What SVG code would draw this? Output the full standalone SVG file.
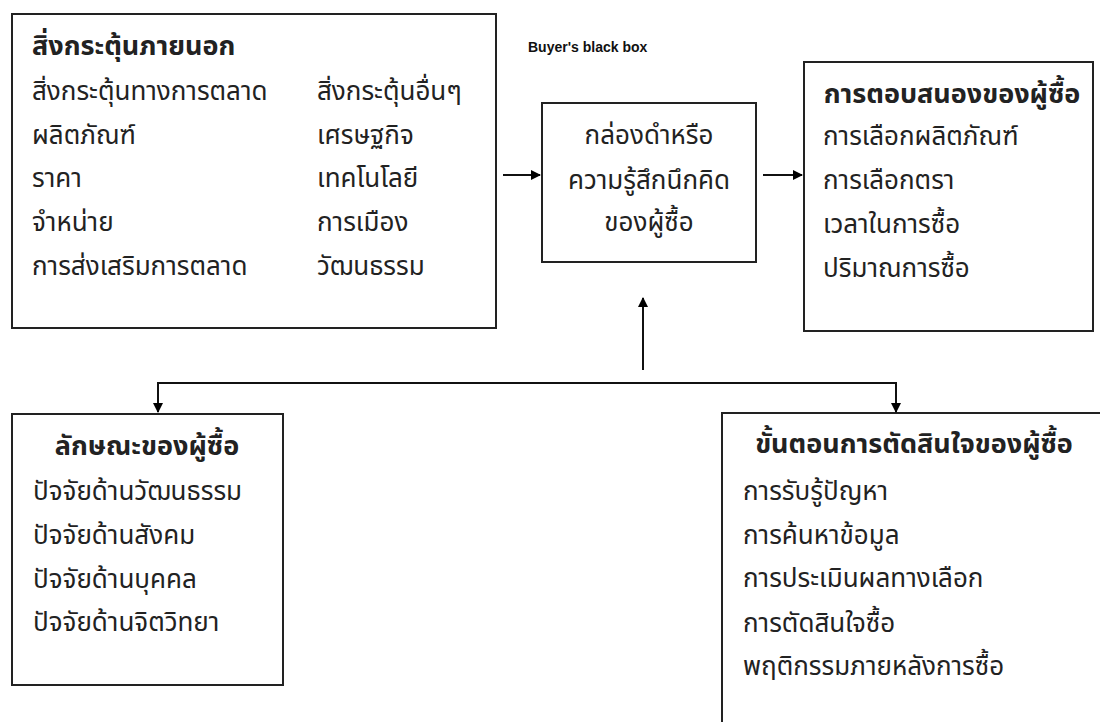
<svg xmlns="http://www.w3.org/2000/svg" width="1100" height="722" viewBox="0 0 1100 722">
<defs>
<style>
.box{fill:#fff;stroke:#222;stroke-width:2}
.t{font-family:"Noto Sans Thai","Noto Sans","Liberation Sans",sans-serif;font-size:26px;fill:#222;dominant-baseline:middle}
.b{font-weight:bold;font-size:27px}
.c{text-anchor:middle}
.en{font-family:"Liberation Sans",Arial,sans-serif;font-size:14px;font-weight:bold;fill:#111}
.ln{stroke:#111;stroke-width:2;fill:none}
</style>
<marker id="ah" markerWidth="10" markerHeight="10" refX="9" refY="5" orient="auto" markerUnits="userSpaceOnUse">
<path d="M0,0 L10,5 L0,10 z" fill="#000"/>
</marker>
</defs>
<rect width="1100" height="722" fill="#fff"/>
<g id="external">
<rect class="box" x="12" y="14" width="484" height="314"/>
<text class="t b" x="32" y="47">สิ่งกระตุ้นภายนอก</text>
<text class="t" x="32" y="93">สิ่งกระตุ้นทางการตลาด</text>
<text class="t" x="32" y="137">ผลิตภัณฑ์</text>
<text class="t" x="32" y="180">ราคา</text>
<text class="t" x="32" y="224">จำหน่าย</text>
<text class="t" x="32" y="268">การส่งเสริมการตลาด</text>
<text class="t" x="317" y="93">สิ่งกระตุ้นอื่นๆ</text>
<text class="t" x="317" y="137">เศรษฐกิจ</text>
<text class="t" x="317" y="180">เทคโนโลยี</text>
<text class="t" x="317" y="224">การเมือง</text>
<text class="t" x="317" y="268">วัฒนธรรม</text>
</g>
<g id="blackbox">
<text class="en" x="528" y="52">Buyer's black box</text>
<rect class="box" x="542" y="103" width="214" height="159"/>
<text class="t c" x="649" y="137">กล่องดำหรือ</text>
<text class="t c" x="649" y="182">ความรู้สึกนึกคิด</text>
<text class="t c" x="649" y="224">ของผู้ซื้อ</text>
</g>
<g id="response">
<rect class="box" x="804" y="62" width="289" height="269"/>
<text class="t b c" x="952" y="95">การตอบสนองของผู้ซื้อ</text>
<text class="t" x="823" y="138">การเลือกผลิตภัณฑ์</text>
<text class="t" x="823" y="182">การเลือกตรา</text>
<text class="t" x="823" y="226">เวลาในการซื้อ</text>
<text class="t" x="823" y="270">ปริมาณการซื้อ</text>
</g>
<g id="characteristics">
<rect class="box" x="12" y="414" width="271" height="271"/>
<text class="t b c" x="147" y="447">ลักษณะของผู้ซื้อ</text>
<text class="t" x="33" y="493">ปัจจัยด้านวัฒนธรรม</text>
<text class="t" x="33" y="537">ปัจจัยด้านสังคม</text>
<text class="t" x="33" y="581">ปัจจัยด้านบุคคล</text>
<text class="t" x="33" y="624">ปัจจัยด้านจิตวิทยา</text>
</g>
<g id="decision">
<rect class="box" x="722" y="413" width="400" height="340"/>
<text class="t b c" x="914" y="445">ขั้นตอนการตัดสินใจของผู้ซื้อ</text>
<text class="t" x="743" y="493">การรับรู้ปัญหา</text>
<text class="t" x="743" y="537">การค้นหาข้อมูล</text>
<text class="t" x="743" y="580">การประเมินผลทางเลือก</text>
<text class="t" x="743" y="625">การตัดสินใจซื้อ</text>
<text class="t" x="743" y="668">พฤติกรรมภายหลังการซื้อ</text>
</g>
<g id="connectors">
<line class="ln" x1="503" y1="175" x2="540" y2="175" marker-end="url(#ah)"/>
<line class="ln" x1="763" y1="175" x2="802" y2="175" marker-end="url(#ah)"/>
<line class="ln" x1="643" y1="370" x2="643" y2="298" marker-end="url(#ah)"/>
<polyline class="ln" points="158,412 158,383 896,383 896,412" style="marker-end:url(#ah)"/>
<line class="ln" x1="158" y1="390" x2="158" y2="412" marker-end="url(#ah)"/>
</g>
</svg>
